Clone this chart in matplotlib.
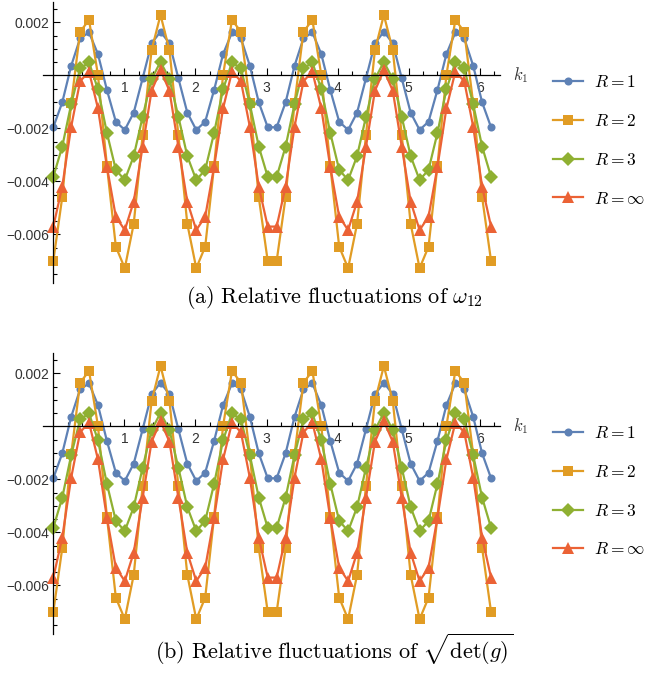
import numpy as np
import matplotlib
matplotlib.use("Agg")
import matplotlib.pyplot as plt
from matplotlib.ticker import FixedLocator

plt.rcParams["mathtext.fontset"] = "cm"

# k_1 = 2*pi*n/50, n = 0..49
n_points = 50

r1 = [-0.00196, -0.00102, 0.00036, 0.00140, 0.00162, 0.00080, -0.00055, -0.00175, -0.00206, -0.00141,
      -0.00011, 0.00121, 0.00165, 0.00121, -0.00011, -0.00141, -0.00206, -0.00175, -0.00055, 0.00080,
      0.00162, 0.00140, 0.00036, -0.00102, -0.00196,
      -0.00196, -0.00102, 0.00036, 0.00140, 0.00162, 0.00080, -0.00055, -0.00175, -0.00206, -0.00141,
      -0.00011, 0.00121, 0.00165, 0.00121, -0.00011, -0.00141, -0.00206, -0.00175, -0.00055, 0.00080,
      0.00162, 0.00140, 0.00036, -0.00102, -0.00196]

r2 = [-0.00701, -0.00460, -0.00106, 0.00165, 0.00209, 0.00001, -0.00341, -0.00647, -0.00728, -0.00561,
      -0.00225, 0.00095, 0.00228, 0.00095, -0.00225, -0.00561, -0.00728, -0.00647, -0.00341, 0.00001,
      0.00209, 0.00165, -0.00106, -0.00460, -0.00701,
      -0.00701, -0.00460, -0.00106, 0.00165, 0.00209, 0.00001, -0.00341, -0.00647, -0.00728, -0.00561,
      -0.00225, 0.00095, 0.00228, 0.00095, -0.00225, -0.00561, -0.00728, -0.00647, -0.00341, 0.00001,
      0.00209, 0.00165, -0.00106, -0.00460, -0.00701]

r3 = [-0.00383, -0.00269, -0.00109, 0.00026, 0.00049, -0.00053, -0.00217, -0.00357, -0.00395, -0.00305,
      -0.00156, -0.00014, 0.00051, -0.00014, -0.00156, -0.00305, -0.00395, -0.00357, -0.00217, -0.00053,
      0.00049, 0.00026, -0.00109, -0.00269, -0.00383,
      -0.00383, -0.00269, -0.00109, 0.00026, 0.00049, -0.00053, -0.00217, -0.00357, -0.00395, -0.00305,
      -0.00156, -0.00014, 0.00051, -0.00014, -0.00156, -0.00305, -0.00395, -0.00357, -0.00217, -0.00053,
      0.00049, 0.00026, -0.00109, -0.00269, -0.00383]

rinf = [-0.00571, -0.00420, -0.00194, -0.00022, 0.00014, -0.00125, -0.00345, -0.00534, -0.00584, -0.00477,
        -0.00269, -0.00058, 0.00020, -0.00058, -0.00269, -0.00477, -0.00584, -0.00534, -0.00345, -0.00125,
        0.00014, -0.00022, -0.00194, -0.00420, -0.00571,
        -0.00571, -0.00420, -0.00194, -0.00022, 0.00014, -0.00125, -0.00345, -0.00534, -0.00584, -0.00477,
        -0.00269, -0.00058, 0.00020, -0.00058, -0.00269, -0.00477, -0.00584, -0.00534, -0.00345, -0.00125,
        0.00014, -0.00022, -0.00194, -0.00420, -0.00571]

labels = [r"$R = 1$", r"$R = 2$", r"$R = 3$", r"$R = \infty$"]
colors = ["#5E81B5", "#E19C24", "#8FB032", "#EB6235"]
markers = ["o", "s", "D", "^"]
msizes = [5.8, 7.5, 6.8, 8.6]

captions = [r"$\mathrm{(a)\ Relative\ fluctuations\ of\ }\omega_{12}$",
            r"$\mathrm{(b)\ Relative\ fluctuations\ of\ }\sqrt{\det(g)}$"]

x_major = [1, 2, 3, 4, 5, 6]
y_major = [-0.006, -0.004, -0.002, 0.002]
y_labels = ["\u22120.006", "\u22120.004", "\u22120.002", "0.002"]

W, H = 648, 674
fig = plt.figure(figsize=(W / 100, H / 100), dpi=100)

k = 2 * np.pi * np.arange(n_points) / n_points
series = [r1, r2, r3, rinf]

# panel top edges and caption baselines, in pixels
panel_tops = [2, 353]
caption_base = [303, 659]
for p, top in enumerate(panel_tops):
    ax = fig.add_axes([43 / W, 1 - (top + 281) / H, 457 / W, 281 / H])
    for ys, c, m, ms, lab in zip(series, colors, markers, msizes, labels):
        ax.plot(k, ys, color=c, marker=m, markersize=ms, lw=1.6, label=lab,
                markeredgewidth=0, clip_on=False)
    ax.set_xlim(-0.145, 2 * np.pi)
    ax.set_ylim(-0.00784, 0.00277)
    for s in ["top", "right"]:
        ax.spines[s].set_visible(False)
    ax.spines["left"].set_position(("data", 0))
    ax.spines["bottom"].set_position(("data", 0))
    for s in ["left", "bottom"]:
        ax.spines[s].set_linewidth(0.9)
    ax.xaxis.set_major_locator(FixedLocator(x_major))
    ax.xaxis.set_minor_locator(FixedLocator([v / 5 for v in range(1, 32) if v % 5]))
    ax.yaxis.set_major_locator(FixedLocator(y_major))
    ax.yaxis.set_minor_locator(FixedLocator([v * 0.0005 for v in range(-15, 6) if v % 4]))
    ax.set_yticklabels(y_labels)
    ax.tick_params(which="both", direction="in", colors="black", labelcolor="#333333",
                   labelsize=10, width=0.8)
    ax.tick_params(which="major", length=5)
    ax.tick_params(which="minor", length=3)
    ax.tick_params(axis="x", pad=4)
    ax.tick_params(axis="y", pad=3)
    for t in ax.get_xticklabels() + ax.get_yticklabels():
        t.set_family("Liberation Sans")

    y0 = top + 73.3
    fig.text(513 / W, 1 - y0 / H, r"$k_1$", fontsize=12, va="center", ha="left", color="#333333")

    handles, labs = ax.get_legend_handles_labels()
    fig.legend(handles, labs, loc="upper left", bbox_to_anchor=(553 / W, 1 - (top + 71) / H),
               frameon=False, fontsize=12.5, numpoints=1, handlelength=1.75, handletextpad=0.62,
               labelspacing=1.2, borderpad=0, borderaxespad=0)

    fig.text(334 / W, 1 - caption_base[p] / H, captions[p], fontsize=16, ha="center", va="baseline")

fig.savefig("out.png", dpi=100)
